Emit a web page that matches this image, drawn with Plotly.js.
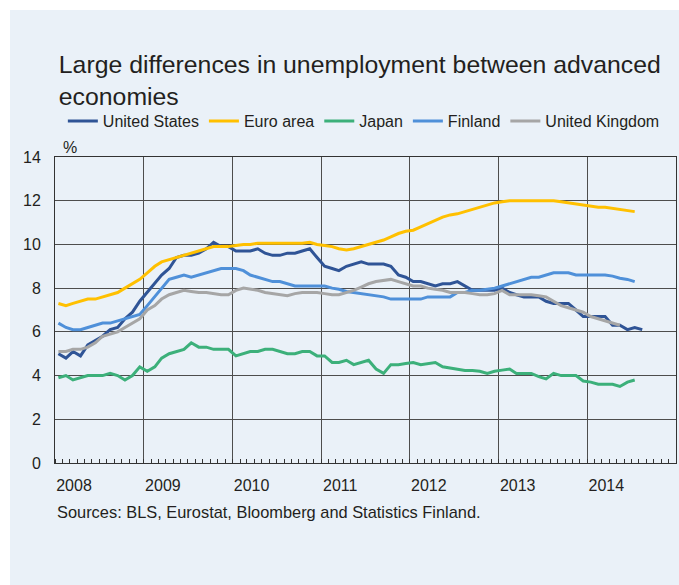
<!DOCTYPE html>
<html>
<head>
<meta charset="utf-8">
<script src="https://cdn.plot.ly/plotly-3.0.1.min.js"></script>
<style>
  html, body { margin: 0; padding: 0; background: #ffffff; }
  #plot { position: absolute; left: 10px; top: 10px; width: 669px; height: 575px; }
</style>
</head>
<body>
<div id="plot"></div>
<script>
// monthly unemployment rates, %, starting Jan 2008
var unitedStates = [
  5.0, 4.8, 5.1, 4.9, 5.4, 5.6, 5.8, 6.1, 6.2, 6.6, 6.9, 7.4,
  7.8, 8.2, 8.6, 8.9, 9.4, 9.5, 9.5, 9.6, 9.8, 10.1, 9.9, 9.9,
  9.7, 9.7, 9.7, 9.8, 9.6, 9.5, 9.5, 9.6, 9.6, 9.7, 9.8, 9.4,
  9.0, 8.9, 8.8, 9.0, 9.1, 9.2, 9.1, 9.1, 9.1, 9.0, 8.6, 8.5,
  8.3, 8.3, 8.2, 8.1, 8.2, 8.2, 8.3, 8.1, 7.9, 7.9, 7.9, 7.9,
  8.0, 7.8, 7.7, 7.6, 7.6, 7.6, 7.4, 7.3, 7.3, 7.3, 7.0, 6.7,
  6.7, 6.7, 6.7, 6.3, 6.3, 6.1, 6.2, 6.1
];
var euroArea = [
  7.3, 7.2, 7.3, 7.4, 7.5, 7.5, 7.6, 7.7, 7.8, 8.0, 8.2, 8.4,
  8.7, 9.0, 9.2, 9.3, 9.4, 9.5, 9.6, 9.7, 9.8, 9.9, 9.9, 9.9,
  9.95, 10.0, 10.0, 10.05, 10.05, 10.05, 10.05, 10.05, 10.05, 10.05, 10.1, 10.0,
  9.95, 9.9, 9.8, 9.75, 9.8, 9.9, 10.0, 10.1, 10.2, 10.35, 10.5, 10.6,
  10.65, 10.8, 10.95, 11.1, 11.25, 11.35, 11.4, 11.5, 11.6, 11.7, 11.8, 11.9,
  11.95, 12.0, 12.0, 12.0, 12.0, 12.0, 12.0, 12.0, 11.95, 11.9, 11.85, 11.8,
  11.75, 11.7, 11.7, 11.65, 11.6, 11.55, 11.5
];
var japan = [
  3.9, 4.0, 3.8, 3.9, 4.0, 4.0, 4.0, 4.1, 4.0, 3.8, 4.0, 4.4,
  4.2, 4.4, 4.8, 5.0, 5.1, 5.2, 5.5, 5.3, 5.3, 5.2, 5.2, 5.2,
  4.9, 5.0, 5.1, 5.1, 5.2, 5.2, 5.1, 5.0, 5.0, 5.1, 5.1, 4.9,
  4.9, 4.6, 4.6, 4.7, 4.5, 4.6, 4.7, 4.3, 4.1, 4.5, 4.5, 4.55,
  4.6, 4.5, 4.55, 4.6, 4.4, 4.35, 4.3, 4.23, 4.23, 4.2, 4.1, 4.2,
  4.25, 4.3, 4.1, 4.1, 4.1, 3.95, 3.85, 4.1, 4.0, 4.0, 4.0, 3.75,
  3.7, 3.6, 3.6, 3.6, 3.5, 3.7, 3.8
];
var finland = [
  6.4, 6.2, 6.1, 6.1, 6.2, 6.3, 6.4, 6.4, 6.5, 6.6, 6.7, 6.8,
  7.2, 7.6, 8.0, 8.4, 8.5, 8.6, 8.5, 8.6, 8.7, 8.8, 8.9, 8.9,
  8.9, 8.8, 8.6, 8.5, 8.4, 8.3, 8.3, 8.2, 8.1, 8.1, 8.1, 8.1,
  8.1, 8.0, 7.95, 7.85, 7.8, 7.75, 7.7, 7.65, 7.6, 7.5, 7.5, 7.5,
  7.5, 7.5, 7.6, 7.6, 7.6, 7.6, 7.8, 7.8, 7.9, 7.9, 7.95, 8.0,
  8.1, 8.2, 8.3, 8.4, 8.5, 8.5, 8.6, 8.7, 8.7, 8.7, 8.6, 8.6,
  8.6, 8.6, 8.6, 8.55, 8.45, 8.4, 8.3
];
var unitedKingdom = [
  5.1, 5.1, 5.2, 5.2, 5.3, 5.5, 5.8, 5.9, 6.0, 6.2, 6.4, 6.6,
  7.0, 7.2, 7.5, 7.7, 7.8, 7.9, 7.85, 7.8, 7.8, 7.75, 7.7, 7.7,
  7.9, 8.0, 7.95, 7.9, 7.8, 7.75, 7.7, 7.65, 7.75, 7.8, 7.8, 7.8,
  7.75, 7.7, 7.7, 7.8, 7.9, 8.05, 8.2, 8.3, 8.35, 8.4, 8.3, 8.2,
  8.1, 8.1, 8.0, 7.95, 7.9, 7.8, 7.8, 7.8, 7.75, 7.7, 7.7, 7.75,
  7.9, 7.7, 7.7, 7.7, 7.7, 7.65, 7.6, 7.4, 7.2, 7.1, 7.0, 6.9,
  6.7, 6.6, 6.5, 6.4, 6.3
];
var yearTicks = ['2008-01-01', '2009-01-01', '2010-01-01', '2011-01-01', '2012-01-01', '2013-01-01', '2014-01-01'];
var yearLabels = ['2008', '2009', '2010', '2011', '2012', '2013', '2014'];

// one date per monthly value, mid-month
function monthDates(n) {
  var out = [];
  for (var i = 0; i < n; i++) {
    var y = 2008 + Math.floor(i / 12);
    var m = (i % 12) + 1;
    out.push(y + '-' + (m < 10 ? '0' + m : m) + '-15');
  }
  return out;
}

function line(name, values, color) {
  return {
    x: monthDates(values.length),
    y: values,
    name: name,
    type: 'scatter',
    mode: 'lines',
    line: {color: color, width: 3},
    hoverinfo: 'skip'
  };
}

var data = [
  line('United States', unitedStates, '#2f5496'),
  line('Euro area', euroArea, '#ffc000'),
  line('Japan', japan, '#3cb07a'),
  line('Finland', finland, '#4f90d9'),
  line('United Kingdom', unitedKingdom, '#a6a6a6')
];

var txt = '#231f20';

var layout = {
  width: 669,
  height: 575,
  paper_bgcolor: '#eaf1f8',
  plot_bgcolor: '#eaf1f8',
  font: {family: 'Liberation Sans, Arial, sans-serif', size: 16, color: txt},
  margin: {l: 45, r: 3, t: 147, b: 122},
  title: {
    text: 'Large differences in unemployment between advanced<br>economies',
    font: {size: 24.8, color: txt},
    xref: 'container', x: 0.073, xanchor: 'left',
    yref: 'container', y: 0.89, yanchor: 'top'
  },
  showlegend: true,
  legend: {
    orientation: 'h',
    xref: 'container', x: 0.079, xanchor: 'left',
    yref: 'container', y: 0.807, yanchor: 'middle',
    font: {size: 16, color: txt},
    bgcolor: 'rgba(0,0,0,0)',
    itemwidth: 30,
    traceorder: 'normal'
  },
  xaxis: {
    type: 'date',
    range: ['2008-01-01', '2015-01-01'],
    tickmode: 'array',
    tickvals: yearTicks,
    ticktext: yearLabels,
    ticks: '',
    ticklabelshift: 19,
    ticklabelstandoff: 8,
    showgrid: true,
    gridcolor: '#4d4d4d',
    gridwidth: 1,
    showline: true,
    linecolor: '#333333',
    linewidth: 1,
    mirror: true,
    zeroline: false,
    tickfont: {size: 16, color: txt},
    minor: {
      tickmode: 'linear',
      tick0: '2008-01-01',
      dtick: 'M1',
      ticks: 'inside',
      ticklen: 4,
      tickcolor: '#333333',
      tickwidth: 1,
      showgrid: false
    }
  },
  yaxis: {
    range: [0, 14],
    dtick: 2,
    tick0: 0,
    ticks: '',
    ticklabelstandoff: 10,
    showgrid: true,
    gridcolor: '#4d4d4d',
    gridwidth: 1,
    showline: true,
    linecolor: '#333333',
    linewidth: 1,
    mirror: true,
    zeroline: false,
    tickfont: {size: 16, color: txt}
  },
  annotations: [
    {
      text: '%',
      xref: 'paper', x: 0, xanchor: 'center', xshift: 15,
      yref: 'paper', y: 1, yanchor: 'bottom', yshift: -1,
      showarrow: false,
      font: {size: 16, color: txt}
    },
    {
      text: 'Sources: BLS, Eurostat, Bloomberg and Statistics Finland.',
      xref: 'paper', x: 0, xanchor: 'left', xshift: 0,
      yref: 'paper', y: 0, yanchor: 'middle', yshift: -49,
      showarrow: false,
      font: {size: 16.4, color: txt}
    }
  ]
};

Plotly.newPlot('plot', data, layout, {displayModeBar: false, staticPlot: true});
</script>
</body>
</html>
